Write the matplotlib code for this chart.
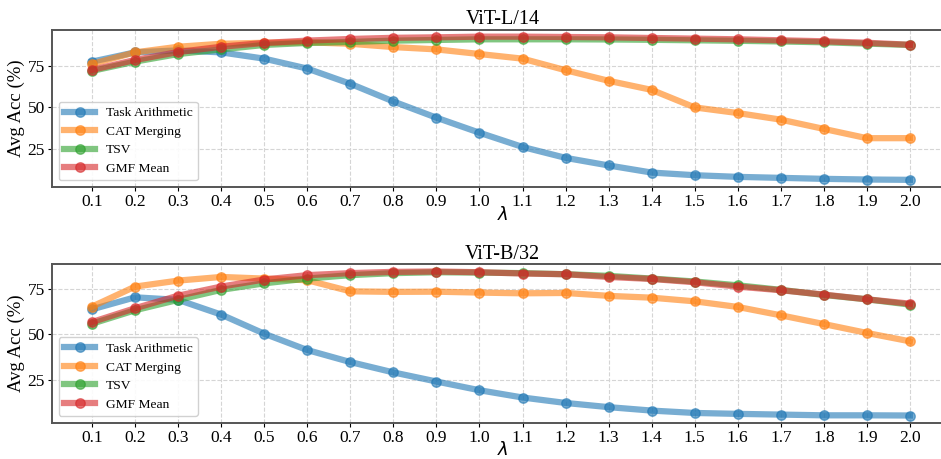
import matplotlib.pyplot as plt
import numpy as np

plt.rcParams["font.family"] = ["Liberation Serif", "DejaVu Serif"]
plt.rcParams["mathtext.fontset"] = "dejavusans"

lambdas = [0.1, 0.2, 0.3, 0.4, 0.5, 0.6, 0.7, 0.8, 0.9, 1.0,
           1.1, 1.2, 1.3, 1.4, 1.5, 1.6, 1.7, 1.8, 1.9, 2.0]
methods = ["Task Arithmetic", "CAT Merging", "TSV", "GMF Mean"]

# ViT-L/14
l14_ta = [77.6, 83.2, 84.4, 83.2, 79.4, 73.4, 64.2, 53.5, 43.7, 34.6,
          26.0, 19.4, 14.8, 10.5, 8.9, 7.9, 7.3, 6.7, 6.3, 6.1]
l14_cat = [76.2, 83.2, 86.6, 88.4, 89.0, 89.3, 88.4, 86.4, 85.0, 82.2,
           79.4, 72.4, 66.0, 60.5, 49.9, 46.5, 42.5, 36.9, 31.3, 31.3]
l14_tsv = [72.0, 77.6, 82.2, 85.0, 87.7, 88.9, 89.5, 90.3, 90.7, 91.1,
           91.1, 91.1, 91.0, 90.8, 90.5, 90.2, 89.8, 89.3, 88.5, 87.7]
l14_gmf = [72.6, 78.6, 83.4, 86.6, 88.9, 90.3, 91.3, 92.0, 92.3, 92.7,
           92.7, 92.5, 92.3, 91.9, 91.5, 91.1, 90.5, 89.9, 89.0, 87.8]

# ViT-B/32
b32_ta = [63.6, 70.2, 68.8, 60.7, 50.2, 41.2, 34.6, 28.9, 23.9, 19.1,
          15.1, 12.1, 9.8, 7.9, 6.6, 6.1, 5.7, 5.3, 5.3, 5.2]
b32_cat = [65.1, 76.1, 79.4, 81.4, 80.5, 79.6, 73.5, 73.2, 73.3, 72.8,
           72.4, 72.6, 71.0, 70.0, 68.0, 64.9, 60.3, 55.5, 50.6, 46.0]
b32_tsv = [55.7, 63.1, 68.8, 74.3, 77.9, 80.5, 82.4, 83.5, 84.0, 83.8,
           83.5, 82.9, 82.0, 80.5, 78.9, 76.8, 74.3, 71.5, 69.1, 66.2]
b32_gmf = [56.6, 64.2, 71.1, 76.1, 80.0, 82.4, 83.5, 84.2, 84.4, 84.0,
           83.3, 82.9, 81.4, 80.3, 78.5, 76.1, 74.1, 71.7, 69.1, 66.7]

colors = ["#1f77b4", "#ff7f0e", "#2ca02c", "#d62728"]

fig = plt.figure(figsize=(9.41, 4.59), dpi=100)
W, H = 941, 459


def make_axes(top, bottom):
    left = 52
    right = 953
    return fig.add_axes([left / W, 1 - bottom / H, (right - left) / W, (bottom - top) / H])


ax1 = make_axes(29.5, 187)
ax2 = make_axes(264.3, 422.7)

panels = [
    (ax1, "ViT-L/14", [l14_ta, l14_cat, l14_tsv, l14_gmf]),
    (ax2, "ViT-B/32", [b32_ta, b32_cat, b32_tsv, b32_gmf]),
]

for ax, title, series in panels:
    for name, vals, c in zip(methods, series, colors):
        ax.plot(lambdas, vals, "-o", color=c, lw=4.5, ms=6.8, alpha=0.6, label=name)
    ax.set_title(title, fontsize=14.5, pad=3)
    ax.set_ylabel("Avg Acc (%)", fontsize=13.5, labelpad=2)
    ax.set_xlabel(r"$\lambda$", fontsize=13, labelpad=-3)
    ax.set_xticks(lambdas)
    ax.set_xticklabels([f"{v:.1f}" for v in lambdas])
    ax.set_yticks([25, 50, 75])
    ax.set_xlim(0.007, 2.1)
    ax.tick_params(labelsize=12.5, length=3, pad=2)
    ax.grid(True, linestyle="--", color="#d5d5d5", linewidth=0.8)
    for s in ax.spines.values():
        s.set_color("#555555")
        s.set_linewidth(1.4)
    ax.legend(loc="lower left", fontsize=9.7, framealpha=0.9, borderpad=0.4,
              handlelength=2.3, labelspacing=0.45)

fig.savefig("out.png", dpi=100)
